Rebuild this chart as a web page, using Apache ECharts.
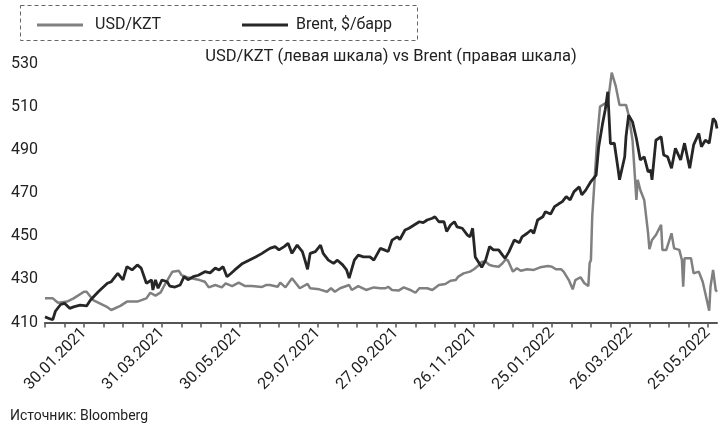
<!DOCTYPE html>
<html><head><meta charset="utf-8">
<script src="https://cdn.jsdelivr.net/npm/echarts@6/dist/echarts.min.js"></script>
<style>html,body{margin:0;padding:0;background:#fff}#c{width:722px;height:427px}</style>
</head><body><div id="c"></div>
<script>
const tickLabels = ['30.01.2021','31.03.2021','30.05.2021','29.07.2021','27.09.2021','26.11.2021','25.01.2022','26.03.2022','25.05.2022'];
const yTicks = [410, 430, 450, 470, 490, 510, 530];

const kztDates = ['2020-12-31','2021-01-06','2021-01-10','2021-01-17','2021-01-22','2021-01-30','2021-02-01','2021-02-06','2021-02-17','2021-02-20','2021-02-27','2021-03-04','2021-03-12','2021-03-19','2021-03-22','2021-03-26','2021-03-30','2021-04-02','2021-04-08','2021-04-13','2021-04-15','2021-04-19','2021-04-29','2021-05-03','2021-05-06','2021-05-11','2021-05-16','2021-05-19','2021-05-24','2021-05-29','2021-06-03','2021-06-08','2021-06-16','2021-06-19','2021-06-22','2021-06-28','2021-06-30','2021-07-04','2021-07-09','2021-07-12','2021-07-15','2021-07-21','2021-07-23','2021-07-30','2021-08-05','2021-08-08','2021-08-11','2021-08-15','2021-08-22','2021-08-24','2021-08-29','2021-09-04','2021-09-10','2021-09-15','2021-09-19','2021-09-21','2021-09-24','2021-09-29','2021-10-03','2021-10-08','2021-10-12','2021-10-15','2021-10-21','2021-10-25','2021-10-30','2021-11-04','2021-11-08','2021-11-12','2021-11-14','2021-11-18','2021-11-23','2021-11-26','2021-11-29','2021-12-02','2021-12-05','2021-12-08','2021-12-11','2021-12-15','2021-12-18','2021-12-20','2021-12-22','2021-12-26','2021-12-29','2022-01-01','2022-01-06','2022-01-11','2022-01-16','2022-01-22','2022-01-25','2022-01-28','2022-02-01','2022-02-03','2022-02-07','2022-02-10','2022-02-12','2022-02-16','2022-02-19','2022-02-22','2022-02-23','2022-02-24','2022-02-25','2022-02-26','2022-02-27','2022-03-01','2022-03-03','2022-03-07','2022-03-09','2022-03-12','2022-03-15','2022-03-18','2022-03-23','2022-03-25','2022-03-28','2022-03-29','2022-03-31','2022-04-01','2022-04-03','2022-04-06','2022-04-09','2022-04-10','2022-04-12','2022-04-15','2022-04-19','2022-04-20','2022-04-23','2022-04-27','2022-04-29','2022-05-03','2022-05-05','2022-05-06','2022-05-07','2022-05-12','2022-05-14','2022-05-18','2022-05-21','2022-05-23','2022-05-26','2022-05-27','2022-05-29','2022-05-31','2022-06-01'];
const kztValues = [421.2,421.2,419.2,419.7,421.2,424.3,424.3,420.4,417.1,415.8,417.7,419.7,419.7,421.2,423.8,422.5,424.0,427.4,433.6,434.0,432.0,431.0,429.7,428.9,426.3,427.4,426.3,428.2,426.9,428.5,426.9,426.9,426.5,427.4,427.4,426.6,428.5,426.3,430.5,428.2,425.9,427.9,425.9,425.4,424.3,425.9,424.3,425.9,427.4,425.1,426.9,425.1,426.3,425.9,425.9,426.6,425.1,424.8,426.3,425.1,423.8,425.9,425.9,425.1,427.4,427.9,429.4,429.7,431.3,432.8,433.6,434.7,436.2,438.2,438.2,436.7,436.2,435.9,437.5,439.0,439.0,433.6,435.2,434.0,434.7,434.4,435.6,436.2,435.9,434.7,434.7,433.6,429.7,425.4,429.7,431.0,428.2,426.9,437.5,439.0,459.1,459.1,477.7,496.3,510.2,511.8,511.8,526.0,520.0,511.0,511.0,506.3,494.7,485.4,466.9,476.2,471.5,466.9,451.4,444.0,448.3,450.6,455.3,443.7,443.7,451.4,444.4,443.7,439.0,426.6,439.8,439.8,432.8,433.6,428.9,423.6,415.5,426.6,434.4,425.1,424.3];

const brentDates = ['2020-12-31','2021-01-04','2021-01-06','2021-01-08','2021-01-12','2021-01-15','2021-01-19','2021-01-22','2021-01-27','2021-02-01','2021-02-04','2021-02-10','2021-02-17','2021-02-20','2021-02-23','2021-02-25','2021-03-01','2021-03-04','2021-03-08','2021-03-12','2021-03-15','2021-03-19','2021-03-23','2021-03-24','2021-03-26','2021-03-28','2021-03-31','2021-04-04','2021-04-06','2021-04-10','2021-04-14','2021-04-17','2021-04-20','2021-04-24','2021-04-28','2021-05-03','2021-05-07','2021-05-11','2021-05-14','2021-05-17','2021-05-20','2021-05-23','2021-05-26','2021-06-01','2021-06-06','2021-06-11','2021-06-16','2021-06-18','2021-06-22','2021-06-26','2021-06-29','2021-07-03','2021-07-06','2021-07-09','2021-07-13','2021-07-17','2021-07-19','2021-07-21','2021-07-23','2021-07-27','2021-07-31','2021-08-02','2021-08-06','2021-08-10','2021-08-13','2021-08-17','2021-08-20','2021-08-22','2021-08-26','2021-08-29','2021-09-02','2021-09-07','2021-09-10','2021-09-15','2021-09-19','2021-09-21','2021-09-24','2021-09-28','2021-09-30','2021-10-04','2021-10-07','2021-10-11','2021-10-15','2021-10-18','2021-10-21','2021-10-25','2021-10-27','2021-10-30','2021-11-03','2021-11-05','2021-11-08','2021-11-11','2021-11-13','2021-11-17','2021-11-21','2021-11-23','2021-11-25','2021-11-27','2021-11-28','2021-12-02','2021-12-05','2021-12-08','2021-12-11','2021-12-15','2021-12-18','2021-12-20','2021-12-23','2021-12-27','2021-12-31','2022-01-02','2022-01-06','2022-01-09','2022-01-11','2022-01-14','2022-01-18','2022-01-20','2022-01-24','2022-01-27','2022-01-30','2022-02-02','2022-02-05','2022-02-08','2022-02-11','2022-02-15','2022-02-17','2022-02-20','2022-02-24','2022-02-28','2022-03-02','2022-03-05','2022-03-07','2022-03-09','2022-03-11','2022-03-14','2022-03-17','2022-03-18','2022-03-22','2022-03-23','2022-03-25','2022-03-28','2022-03-31','2022-04-01','2022-04-03','2022-04-06','2022-04-09','2022-04-11','2022-04-12','2022-04-15','2022-04-19','2022-04-21','2022-04-24','2022-04-27','2022-04-30','2022-05-04','2022-05-07','2022-05-11','2022-05-14','2022-05-18','2022-05-20','2022-05-23','2022-05-26','2022-05-29','2022-05-31','2022-06-01'];
const brentValues = [51.9,51.2,51.0,53.8,56.1,56.5,54.8,55.3,55.9,55.6,57.6,60.4,63.3,63.8,65.5,66.6,64.4,68.9,67.8,69.5,68.4,63.3,64.4,61.0,64.4,61.6,64.4,63.8,62.3,62.0,62.7,65.5,64.5,65.5,66.0,67.2,66.8,68.4,67.8,68.9,65.5,66.6,67.8,70.0,71.1,72.2,73.4,74.0,75.1,75.7,74.6,75.7,76.8,73.4,76.2,74.0,71.1,68.0,73.4,74.0,76.2,73.4,71.1,70.0,71.1,69.5,67.8,65.0,71.1,72.8,72.2,72.2,71.1,75.1,74.4,74.0,77.9,79.0,78.1,81.3,81.9,83.0,84.1,83.8,84.7,85.3,85.8,84.1,84.1,80.8,83.0,84.1,82.4,81.9,79.6,79.0,81.9,72.2,71.7,68.7,71.1,75.7,74.6,74.6,72.8,71.7,74.0,77.9,77.0,79.0,80.2,81.3,80.2,84.7,85.8,87.5,86.7,89.2,90.1,90.9,92.6,91.5,94.3,95.9,93.2,94.8,97.7,99.9,109.5,117.4,122.0,128.1,110.5,110.7,101.6,98.3,106.1,112.9,120.2,117.9,112.3,112.9,105.0,106.1,101.0,101.6,98.3,111.7,112.9,106.7,106.1,102.2,109.0,105.0,110.7,102.2,110.1,114.0,109.5,111.7,110.7,119.1,117.9,115.7];

const ORIGIN = Date.UTC(2020, 11, 31);
function isoDay(s) { const p = s.split('-').map(Number); return Math.round((Date.UTC(p[0], p[1]-1, p[2]) - ORIGIN) / 86400000); }
function labelDay(s) { const p = s.split('.').map(Number); return Math.round((Date.UTC(p[2], p[1]-1, p[0]) - ORIGIN) / 86400000); }
const lastDay = Math.max(isoDay(kztDates[kztDates.length-1]), isoDay(brentDates[brentDates.length-1]));
const labelDays = tickLabels.map(labelDay);
const labelMap = {}; labelDays.forEach((d, i) => labelMap[d] = tickLabels[i]);
const tickDays = []; for (let t = 0; t <= lastDay; t += 15) tickDays.push(t);

const FONT = 'Roboto';
const chart = echarts.init(document.getElementById('c'), null, {renderer: 'canvas'});
chart.setOption({
  animation: false,
  backgroundColor: '#fff',
  textStyle: {fontFamily: FONT},
  title: {text: 'USD/KZT (левая шкала) vs Brent (правая шкала)', left: 386, textAlign: 'center', top: 43,
    textStyle: {fontFamily: FONT, fontSize: 16.5, fontWeight: 'normal', color: '#222'}},
  legend: [
    {data: ['USD/KZT'], left: 32, top: 12, icon: 'rect', itemWidth: 46, itemHeight: 3,
      textStyle: {fontFamily: FONT, fontSize: 16, color: '#222', padding: [0,0,0,7]}},
    {data: ['Brent, $/барр'], left: 237, top: 12, icon: 'rect', itemWidth: 46, itemHeight: 3,
      textStyle: {fontFamily: FONT, fontSize: 16, color: '#222', padding: [0,0,0,3]}}
  ],
  graphic: [
    {type: 'rect', shape: {x: 20.5, y: 5.5, width: 397, height: 35}, style: {fill: 'none', stroke: '#666', lineWidth: 1, lineDash: [4, 3]}, silent: true},
    {type: 'text', left: 10, top: 409, style: {text: 'Источник: Bloomberg', font: '14px Roboto', fill: '#222'}}
  ],
  grid: {left: 45, right: 5, top: 64, bottom: 104.5, containLabel: false},
  xAxis: {type: 'value', min: 0, max: lastDay,
    axisLine: {show: true, lineStyle: {color: '#555', width: 2}},
    axisTick: {show: true, customValues: tickDays, length: 5, lineStyle: {color: '#555', width: 1.5}},
    axisLabel: {customValues: labelDays, rotate: 45, margin: 8, fontFamily: FONT, fontSize: 16, color: '#222',
      formatter: v => labelMap[Math.round(v)] || ''},
    splitLine: {show: false}},
  yAxis: [
    {type: 'value', min: yTicks[0], max: yTicks[yTicks.length-1], interval: 20,
      axisLine: {show: false}, axisTick: {show: false}, splitLine: {show: false},
      axisLabel: {margin: 7, fontFamily: FONT, fontSize: 16, color: '#222'}},
    {type: 'value', min: 50, max: 137.5, show: false, splitLine: {show: false}}
  ],
  series: [
    {name: 'USD/KZT', type: 'line', yAxisIndex: 0, showSymbol: false, color: '#808080',
      lineStyle: {color: '#808080', width: 2.5}, z: 2,
      data: kztDates.map((d, i) => [isoDay(d), kztValues[i]])},
    {name: 'Brent, $/барр', type: 'line', yAxisIndex: 1, showSymbol: false, color: '#262626',
      lineStyle: {color: '#262626', width: 2.8}, z: 3,
      data: brentDates.map((d, i) => [isoDay(d), brentValues[i]])}
  ]
});
</script></body></html>
